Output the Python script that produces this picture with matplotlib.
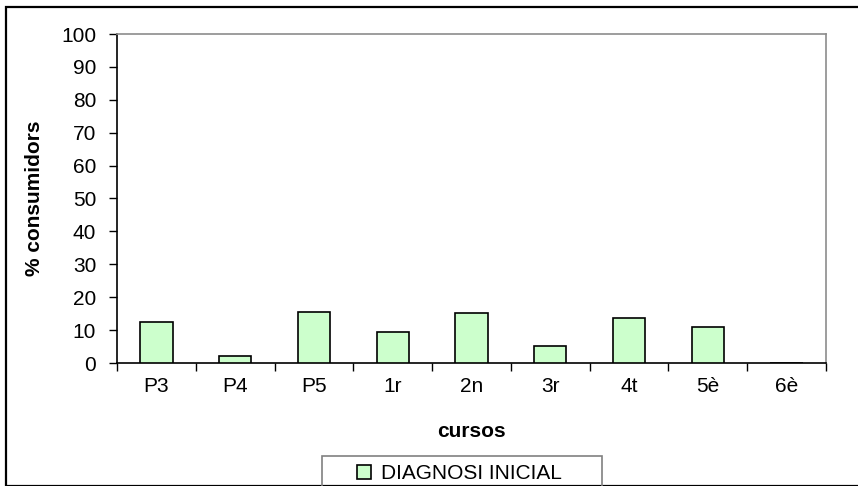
import numpy as np
import matplotlib.pyplot as plt
from matplotlib.patches import Rectangle

# Data
cursos = ['P3', 'P4', 'P5', '1r', '2n', '3r', '4t', '5è', '6è']
consumidors = [12.4, 2.1, 15.6, 9.5, 15.2, 5.3, 13.8, 11.0, 0.0]
serie_label = 'DIAGNOSI INICIAL'

plt.rcParams['font.family'] = ['Liberation Sans', 'DejaVu Sans']
fs = 15

W, H = 858, 486
fig = plt.figure(figsize=(W / 100, H / 100), dpi=100)

# outer chart border (only top/left visible in the original)
fig.patches.append(Rectangle((6 / W, 0), 1.2, 1 - 7 / H, transform=fig.transFigure,
                             fill=False, edgecolor='black', linewidth=1.6,
                             clip_on=False))

ax = fig.add_axes([117 / W, 1 - 363 / H, (826 - 117) / W, (363 - 34) / H])

x = np.arange(len(cursos))
bars = ax.bar(x, consumidors, width=0.41, color='#CCFFCC', edgecolor='black',
              linewidth=1.2, label=serie_label, zorder=3)

ax.set_xlim(-0.5, len(cursos) - 0.5)
ax.set_ylim(0, 100)
ax.set_yticks(np.arange(0, 101, 10))

ax.set_xticks(x)
ax.set_xticklabels(cursos)
ax.set_xticks(np.arange(-0.5, len(cursos), 1), minor=True)
ax.tick_params(axis='x', which='major', length=0, pad=10, labelsize=fs)
ax.tick_params(axis='x', which='minor', length=6, width=1, color='black')
ax.tick_params(axis='y', length=6, width=1, pad=9, labelsize=fs)

for s in ['top', 'right']:
    ax.spines[s].set_color('#8c8c8c')
    ax.spines[s].set_linewidth(1.2)
for s in ['left', 'bottom']:
    ax.spines[s].set_color('black')
    ax.spines[s].set_linewidth(1.2)

ax.set_xlabel('cursos', fontsize=fs, fontweight='bold', labelpad=19)
ax.set_ylabel('% consumidors', fontsize=fs, fontweight='bold', labelpad=12)

# legend frame (cut off by the bottom edge like the original)
fig.patches.append(Rectangle((322 / W, -0.1), (602 - 322) / W, 0.1 + 1 - 456 / H,
                             transform=fig.transFigure, fill=False,
                             edgecolor='#808080', linewidth=1.2, clip_on=False))
leg = fig.legend(handles=[bars], labels=[serie_label],
                 loc='upper left',
                 bbox_to_anchor=(357 / W, 1 - 464 / H),
                 fontsize=fs, handlelength=0.65, handleheight=0.65,
                 handletextpad=0.5, borderpad=0.0, borderaxespad=0,
                 frameon=False)

fig.savefig('out.png', dpi=100)
